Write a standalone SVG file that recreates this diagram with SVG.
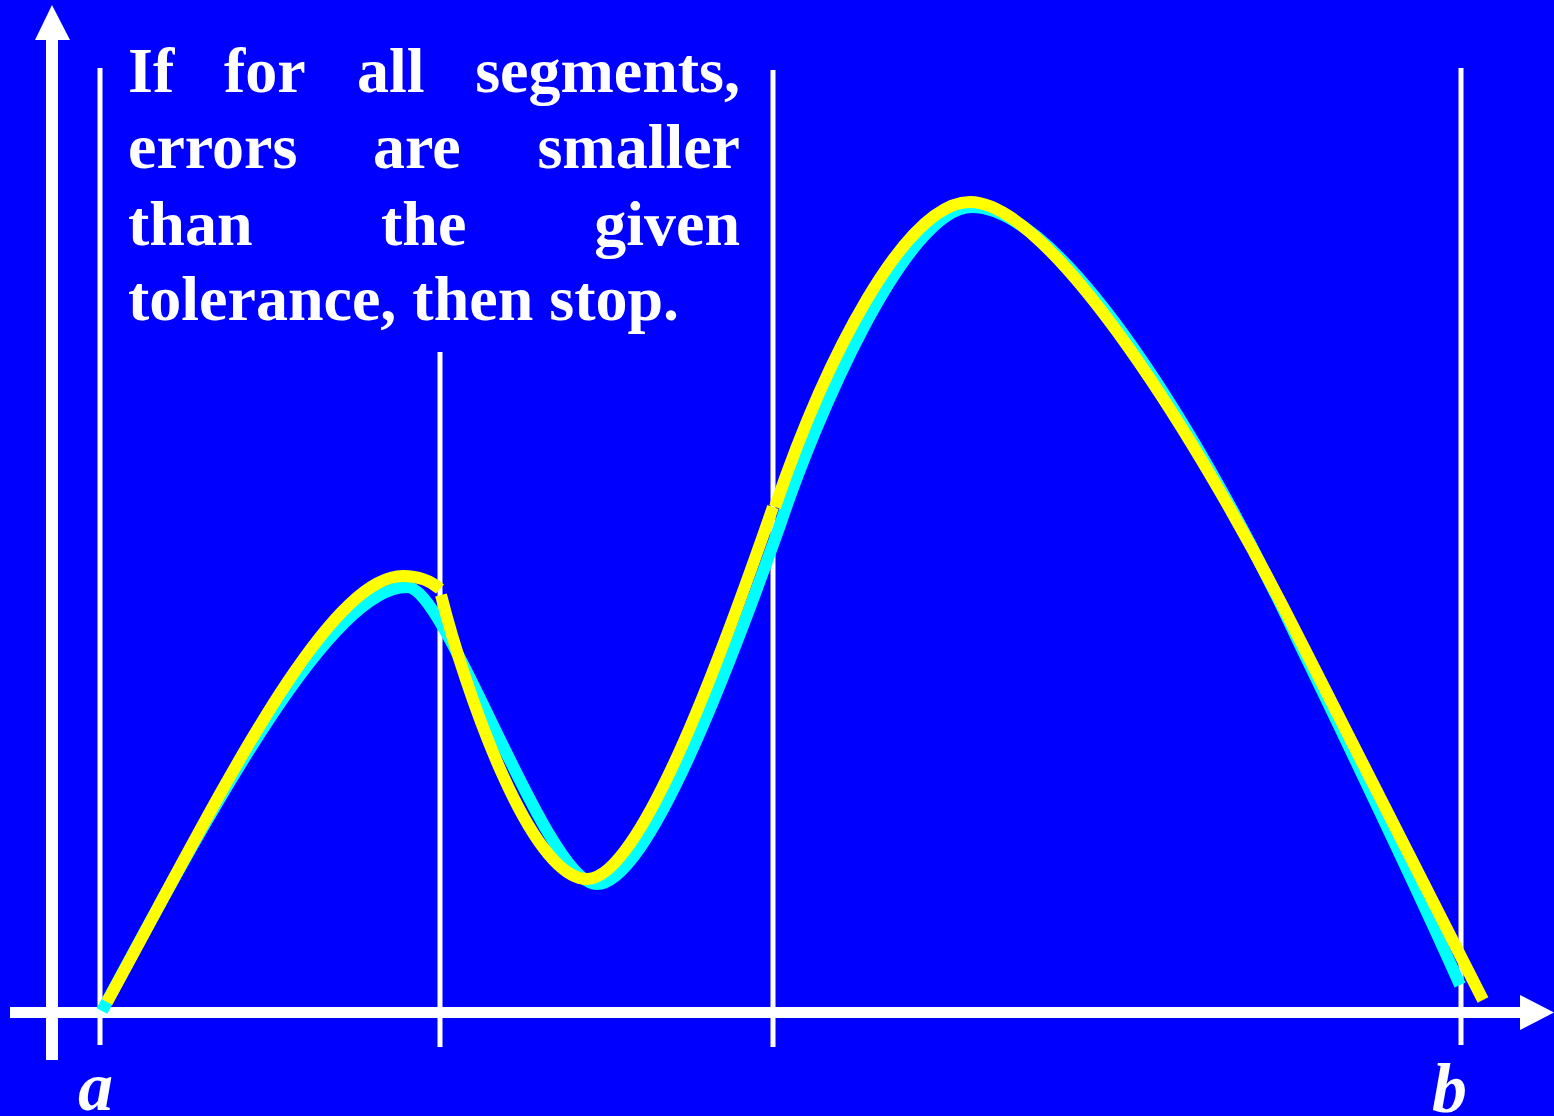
<svg xmlns="http://www.w3.org/2000/svg" width="1554" height="1116" viewBox="0 0 1554 1116">
<style>
.txt{font-family:"Liberation Serif","Times New Roman",serif;font-weight:bold;font-size:64px;fill:#fff}
.lbl{font-family:"Liberation Serif","Times New Roman",serif;font-weight:bold;font-style:italic;font-size:70px;fill:#fff}
.grid{stroke:#fff;stroke-width:5;fill:none}
.f{stroke:#00FFFF;stroke-width:12;fill:none}
.s{stroke:#FFFF00;stroke-width:12;fill:none}
</style>
<rect width="1554" height="1116" fill="#0000FF"/>
<g id="axes">
<rect x="46" y="38" width="12" height="1022" fill="#fff"/>
<polygon points="52,5 35,40 70,40" fill="#fff"/>
<rect x="10" y="1007" width="1512" height="11" fill="#fff"/>
<polygon points="1554,1012.5 1520,995 1520,1030" fill="#fff"/>
</g>
<g id="dividers">
<line class="grid" x1="100" y1="68" x2="100" y2="1045"/>
<line class="grid" x1="440" y1="352" x2="440" y2="1047"/>
<line class="grid" x1="773" y1="70" x2="773" y2="1047"/>
<line class="grid" x1="1461" y1="68" x2="1461" y2="1045"/>
</g>
<g id="function">
<path class="f" d="M102,1011 C210,810 330,587 407,587 C448,587 545,884 597,884 C648,884 730,665 780,525 C815,420 905,207 972,207 C1062,207 1205,440 1300,645 C1340,727 1420,895 1460,985"/>
</g>
<g id="segments">
<path class="s" d="M107,1002 C215,805 325,576 403,576 C418,576 431,581 440,589"/>
<path class="s" d="M441,595 C465,690 530,879 587,879 C640,879 720,660 773,507"/>
<path class="s" d="M775,507 C825,360 905,202 970,202 C1050,202 1200,440 1300,640 L1483,1000"/>
</g>
<g id="caption">
<text class="txt" x="128" y="92">If</text>
<text class="txt" x="224" y="92">for</text>
<text class="txt" x="357" y="92">all</text>
<text class="txt" x="740" y="92" text-anchor="end">segments,</text>
<text class="txt" x="128" y="168">errors</text>
<text class="txt" x="373" y="168">are</text>
<text class="txt" x="740" y="168" text-anchor="end">smaller</text>
<text class="txt" x="128" y="245">than</text>
<text class="txt" x="381" y="245">the</text>
<text class="txt" x="740" y="245" text-anchor="end">given</text>
<text class="txt" x="128" y="320">tolerance, then stop.</text>
</g>
<g id="labels">
<text class="lbl" x="78" y="1110">a</text>
<text class="lbl" x="1432" y="1112">b</text>
</g>
</svg>
